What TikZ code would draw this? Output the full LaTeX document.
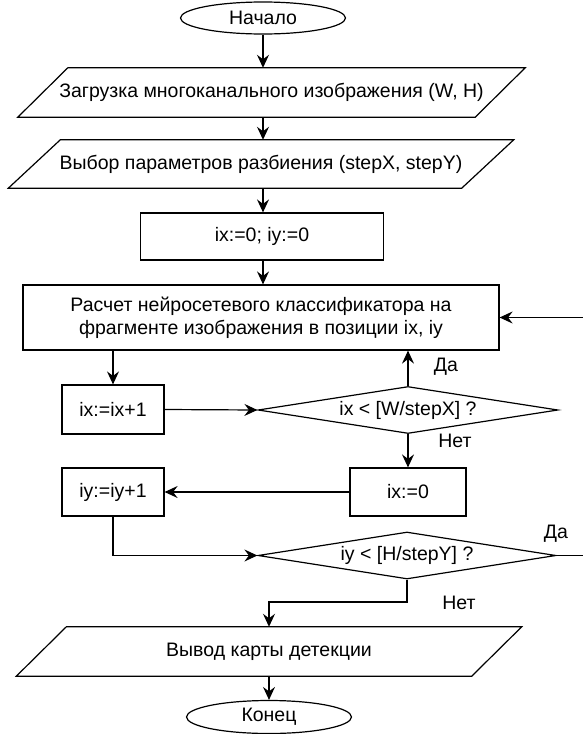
\documentclass[tikz,border=0pt]{standalone}
\usepackage{fontspec}
\setmainfont{Liberation Sans}
\usetikzlibrary{shapes.geometric,arrows.meta,calc}
\tikzset{
  txt/.style={font=\fontsize{19.5}{23}\selectfont},
  base/.style={draw=black, line width=1.2pt, inner sep=0pt, align=center, txt},
  boxnode/.style={base, rectangle},
  term/.style={base, ellipse},
  dec/.style={base, diamond, aspect=6.4},
  io/.style={inner sep=0pt, align=center, txt},
  arr/.style={line width=1.2pt, -{Stealth[length=13pt,width=12pt,inset=4.5pt]}},
  lbl/.style={inner sep=0pt, txt}
}
\newcommand{\paral}[2]{% node name, half slant
  \draw[line width=1.2pt] ($(#1.north west)+(#2,0)$) -- ($(#1.north east)+(#2,0)$) -- ($(#1.south east)+(-#2,0)$) -- ($(#1.south west)+(-#2,0)$) -- cycle;}
\begin{document}
\begin{tikzpicture}[x=1pt,y=-1pt]
\useasboundingbox (0,0) rectangle (583,734);
% nodes
\node[term, minimum width=165, minimum height=32] (start) at (263,18) {Начало};
\node[io, minimum width=457, minimum height=49] (p1) at (271.5,92.5) {Загрузка многоканального изображения (W, H)};
\paral{p1}{25}
\node[io, minimum width=453, minimum height=48] (p2) at (261,164) {Выбор параметров разбиения (stepX, stepY)};
\paral{p2}{26}
\node[boxnode, minimum width=243, minimum height=47] (r1) at (262,236.5) {ix:=0; iy:=0};
\node[boxnode, minimum width=476, minimum height=65] (big) at (261,317.5) {Расчет нейросетевого классификатора на\\фрагменте изображения в позиции ix, iy};
\node[boxnode, minimum width=102, minimum height=49] (inc) at (113,409.5) {ix:=ix+1};
\node[dec, minimum width=300, minimum height=47] (d1) at (408,410) {ix < [W/stepX] ?};
\node[boxnode, minimum width=116, minimum height=48] (ix0) at (408,492) {ix:=0};
\node[boxnode, minimum width=102, minimum height=48] (iy) at (113,492) {iy:=iy+1};
\node[dec, minimum width=298, minimum height=47] (d2) at (407,555.5) {iy < [H/stepY] ?};
\node[io, minimum width=455, minimum height=49] (p3) at (269,651.5) {Вывод карты детекции};
\paral{p3}{25}
\node[term, minimum width=165, minimum height=33] (end) at (269,717) {Конец};
\coordinate (nj) at (269,602);
% connectors
\draw[arr] (start.south) -- (start.south |- p1.north);
\draw[arr] (start.south |- p1.south) -- (start.south |- p2.north);
\draw[arr] (start.south |- p2.south) -- (start.south |- r1.north);
\draw[arr] (start.south |- r1.south) -- (start.south |- big.north);
\draw[arr] (inc.north |- big.south) -- (inc.north);
\draw[arr] (inc.east) -- (d1.west);
\draw[arr] (d1.north) -- (d1.north |- big.south);
\draw[arr] (d1.south) -- (ix0.north);
\draw[arr] (ix0.west) -- (iy.east);
\draw[arr] (iy.south) |- (d2.west);
\draw[arr] (d2.east) -- ++(45,0) |- (big.east);
\draw[arr] (d2.south) |- (nj) -- (nj |- p3.north);
\draw[arr] (p3.south -| end.north) -- (end.north);
% labels
\node[lbl] (l1) at (446,367) {Да};
\node[lbl] (l2) at (455,441) {Нет};
\node[lbl] (l3) at (556,534) {Да};
\node[lbl] (l4) at (459,603) {Нет};
\end{tikzpicture}
\end{document}
